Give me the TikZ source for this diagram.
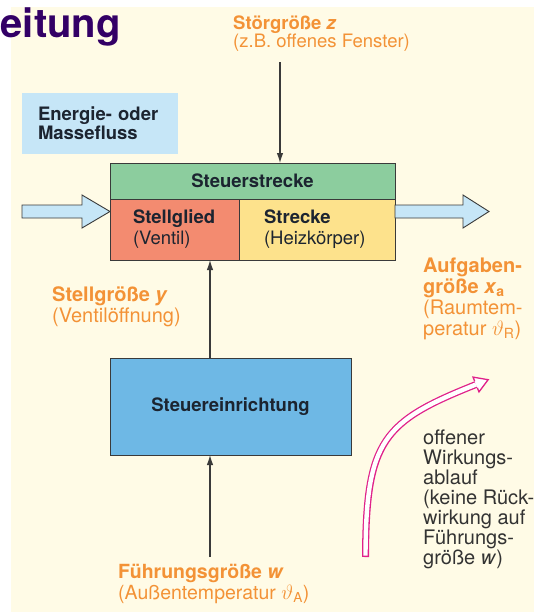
\documentclass[tikz,border=0pt]{standalone}
\usepackage{fontspec}
\setmainfont{TeX Gyre Heros}
\usetikzlibrary{arrows.meta,positioning}
\definecolor{PaperCream}{HTML}{FFFBE6}
\definecolor{TitlePurple}{HTML}{330066}
\definecolor{FlowBlue}{HTML}{C6E6F7}
\definecolor{PathGreen}{HTML}{8CCD9E}
\definecolor{ValveRed}{HTML}{F38B70}
\definecolor{HeatYellow}{HTML}{FDE28C}
\definecolor{UnitBlue}{HTML}{6EB8E5}
\definecolor{SignalOrange}{HTML}{F39236}
\definecolor{OpenMagenta}{HTML}{E0218A}
\definecolor{BoxLine}{HTML}{3A3A3A}
\definecolor{BoxText}{HTML}{1C2430}
\definecolor{NoteGrey}{HTML}{333333}

\begin{document}
\begin{tikzpicture}[x=1pt,y=-1pt,>={Latex[length=10pt,width=6.5pt]},
    block/.style={draw=BoxLine,line width=0.9pt,inner sep=0pt,outer sep=0pt,text=BoxText,
      font=\fontsize{18.5}{21}\selectfont\bfseries},
    sig/.style={text=SignalOrange,anchor=west,align=left,inner sep=0pt},
    wire/.style={draw=BoxLine,line width=1.1pt,->},
    flow/.style={draw=BoxLine,line width=0.9pt,fill=FlowBlue,line join=miter}]
  \useasboundingbox (0,0) rectangle (534,614);
  \fill[PaperCream] (11,7) rectangle (534,612);
  \node[text=TitlePurple,font=\fontsize{40}{40}\selectfont\bfseries,anchor=base west,inner sep=0pt] (title) at (0.5,37) {eitung};

  % Steuerstrecke
  \node[block,fill=PathGreen,minimum width=285pt,minimum height=36pt] (strecke) at (252.5,181) {Steuerstrecke};
  \node[block,fill=ValveRed,anchor=north west,minimum height=61pt,text width=83pt,inner xsep=23pt,align=left] (stellglied) at (strecke.south west) {Stellglied\\\mdseries(Ventil)};
  \node[block,fill=HeatYellow,anchor=north west,minimum height=61pt,text width=106pt,inner xsep=25pt,align=left] (heiz) at (stellglied.north east) {Strecke\\\mdseries(Heizkörper)};
  \node[block,fill=FlowBlue,draw=none,minimum width=156pt,minimum height=61pt,text width=124pt,inner xsep=16pt,align=left,font=\fontsize{18.5}{19}\selectfont\bfseries] (fluss) at (100,123.5) {Energie- oder\\Massefluss};
  \node[block,fill=UnitBlue,minimum width=241pt,minimum height=97pt] (einr) at (230.5,406.5) {Steuereinrichtung};

  % Energie- oder Massefluss
  \draw[flow] (22,205) -- (82,205) -- (82,195) -- (110,211.5) -- (82,228) -- (82,218) -- (22,218) -- cycle;
  \draw[flow] (395,205) -- (463,205) -- (463,195) -- (489,211.5) -- (463,228) -- (463,218) -- (395,218) -- cycle;

  % Signale
  \node[sig,font=\fontsize{18.5}{17.5}\selectfont] (stoer) at (233,33.5) {\textbf{Störgröße \textit{z}}\\(z.B. offenes Fenster)};
  \coordinate (zin) at (280,62);
  \draw[wire] (zin) -- (zin |- strecke.north);

  \node[sig,font=\fontsize{20}{21}\selectfont] (stell) at (52,306.5) {\textbf{Stellgröße \textit{y}}\\(Ventilöffnung)};
  \coordinate (ypath) at (210,300);
  \draw[wire] (ypath |- einr.north) -- (ypath |- stellglied.south);

  \node[sig,font=\fontsize{19.5}{21}\selectfont] (fuehr) at (118,584) {\textbf{Führungsgröße \textit{w}}\\(Außentemperatur $\vartheta$\textsubscript{A})};
  \coordinate (win) at (210,557);
  \draw[wire] (win) -- (win |- einr.south);

  \node[sig,font=\fontsize{20}{21}\selectfont] (aufgabe) at (423,298.5) {\textbf{Aufgaben-}\\\textbf{größe \textit{x}\textsubscript{a}}\\(Raumtem-\\peratur $\vartheta$\textsubscript{R})};

  % offener Wirkungsablauf
  \node[anchor=west,align=left,inner sep=0pt,text=NoteGrey,font=\fontsize{20}{20}\selectfont] (ablauf) at (423,499) {offener\\Wirkungs-\\ablauf\\(keine Rück-\\wirkung auf\\Führungs-\\größe \textit{w})};
  \coordinate (loopA) at (365.5,557);
  \coordinate (loopA2) at (365.5,555.7);
  \coordinate (loopB) at (476,384.5);
  \draw[OpenMagenta,line width=7pt] (loopA) .. controls (366,440) and (383,421.5) .. (loopB);
  \draw[white,line width=4.4pt] (loopA2) .. controls (366,440) and (383,421.5) .. (loopB);
  \fill[white] (473.0,377.1) -- (488.1,379.7) -- (479.0,391.9) -- cycle;
  \draw[OpenMagenta,line width=1.3pt,line join=miter] (474.7,381.25) -- (473.0,377.1) -- (488.1,379.7) -- (479.0,391.9) -- (477.3,387.75);
\end{tikzpicture}
\end{document}
